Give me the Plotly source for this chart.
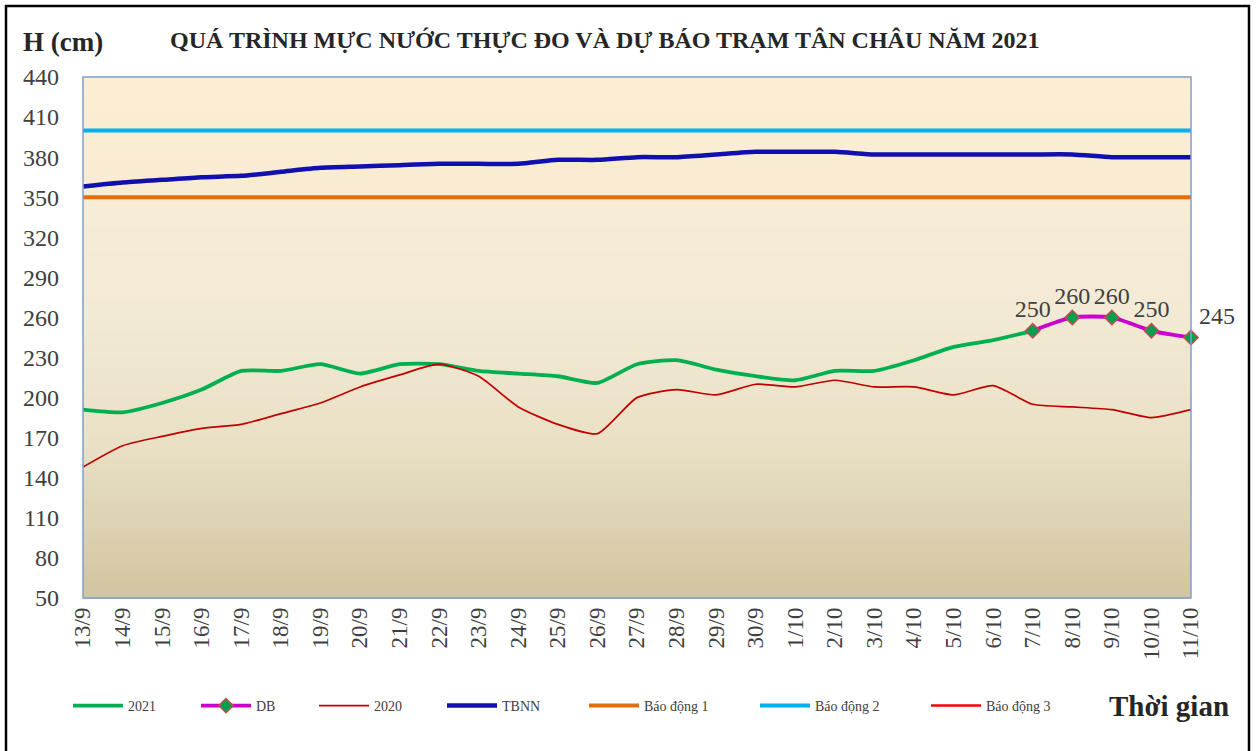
import plotly.graph_objects as go

dates = ["13/9", "14/9", "15/9", "16/9", "17/9", "18/9", "19/9", "20/9", "21/9", "22/9",
         "23/9", "24/9", "25/9", "26/9", "27/9", "28/9", "29/9", "30/9", "1/10", "2/10",
         "3/10", "4/10", "5/10", "6/10", "7/10", "8/10", "9/10", "10/10", "11/10"]

obs_2021 = [191, 189, 196, 206, 220, 220, 225, 218, 225, 225,
            220, 218, 216, 211, 225, 228, 221, 216, 213, 220,
            220, 228, 238, 243, 250]

db_dates = ["7/10", "8/10", "9/10", "10/10", "11/10"]
db_values = [250, 260, 260, 250, 245]

obs_2020 = [148, 164, 171, 177, 180, 188, 196, 208, 217, 225,
            216, 193, 180, 173, 200, 206, 202, 210, 208, 213,
            208, 208, 202, 209, 195, 193, 191, 185, 191]

tbnn = [358, 361, 363, 365, 366, 369, 372, 373, 374, 375,
        375, 375, 378, 378, 380, 380, 382, 384, 384, 384,
        382, 382, 382, 382, 382, 382, 380, 380, 380]

bao_dong_1 = 350
bao_dong_2 = 400
bao_dong_3 = 450

y_ticks = [50, 80, 110, 140, 170, 200, 230, 260, 290, 320, 350, 380, 410, 440]

W, H = 1257, 751
L, R, T, B = 83, 1191, 77, 598


def px(x):
    return (x - L) / (R - L)


def py(y):
    return (B - y) / (B - T)


SERIF = "Liberation Serif, Times New Roman, serif"
fig = go.Figure()

fig.add_trace(go.Scatter(x=dates[:len(obs_2021)], y=obs_2021, name="2021", mode="lines", legend="legend",
                         line=dict(color="#00B050", width=3.8, shape="spline", smoothing=0.6)))
fig.add_trace(go.Scatter(x=db_dates, y=db_values, name="DB", mode="lines+markers+text", legend="legend2",
                         line=dict(color="#CC00CC", width=3.8, shape="spline", smoothing=0.6),
                         marker=dict(symbol="diamond", size=11, color="#00A050",
                                     line=dict(color="#C0504D", width=1.5)),
                         text=[str(v) for v in db_values],
                         textposition=["top center", "top center", "top center", "top center", "top right"],
                         textfont=dict(family=SERIF, size=24, color="#404040"),
                         cliponaxis=False))
fig.add_trace(go.Scatter(x=dates, y=obs_2020, name="2020", mode="lines", legend="legend3",
                         line=dict(color="#C00000", width=1.7, shape="spline", smoothing=0.6)))
fig.add_trace(go.Scatter(x=dates, y=tbnn, name="TBNN", mode="lines", legend="legend4",
                         line=dict(color="#1010B0", width=4.5, shape="spline", smoothing=0.6)))
fig.add_trace(go.Scatter(x=dates, y=[bao_dong_1] * len(dates), name="Báo động 1", mode="lines",
                         legend="legend5", line=dict(color="#E46C0A", width=4)))
fig.add_trace(go.Scatter(x=dates, y=[bao_dong_2] * len(dates), name="Báo động 2", mode="lines",
                         legend="legend6", line=dict(color="#00B0F0", width=4)))
fig.add_trace(go.Scatter(x=dates, y=[bao_dong_3] * len(dates), name="Báo động 3", mode="lines",
                         legend="legend7", line=dict(color="#FF0000", width=2.5)))

# gradient background bands
stops = [(0.0, (253, 238, 210)), (0.45, (243, 234, 213)), (0.72, (232, 223, 196)), (1.0, (210, 196, 160))]


def col_at(t):
    for (t0, c0), (t1, c1) in zip(stops[:-1], stops[1:]):
        if t0 <= t <= t1:
            f = (t - t0) / (t1 - t0)
            return "rgb(%d,%d,%d)" % tuple(round(a + (b - a) * f) for a, b in zip(c0, c1))
    return "rgb(%d,%d,%d)" % stops[-1][1]


shapes = []
N = 80
for i in range(N):
    t = (i + 0.5) / N
    shapes.append(dict(type="rect", xref="paper", yref="paper", x0=0, x1=1,
                       y0=1 - (i + 1) / N - 0.002, y1=1 - i / N, fillcolor=col_at(t),
                       line=dict(width=0), layer="below"))
# plot border
shapes.append(dict(type="rect", xref="paper", yref="paper", x0=0, x1=1, y0=0, y1=1,
                   line=dict(color="#7F9FCF", width=1.5), fillcolor="rgba(0,0,0,0)", layer="above"))
# outer frame
shapes.append(dict(type="rect", xref="paper", yref="paper", x0=px(6), x1=px(1249), y0=py(760), y1=py(6),
                   line=dict(color="black", width=2.5), fillcolor="rgba(0,0,0,0)", layer="above"))

annotations = [
    dict(text="<b>H (cm)</b>", x=px(21), y=py(42), xref="paper", yref="paper", xanchor="left",
         yanchor="middle", showarrow=False, font=dict(family=SERIF, size=27, color="#262626")),
    dict(text="<b>QUÁ TRÌNH MỰC NƯỚC THỰC ĐO VÀ DỰ BÁO TRẠM TÂN CHÂU NĂM 2021</b>", x=px(605), y=py(40),
         xref="paper", yref="paper", xanchor="center", yanchor="middle", showarrow=False,
         font=dict(family=SERIF, size=24, color="#262626")),
    dict(text="<b>Thời gian</b>", x=px(1231), y=py(706), xref="paper", yref="paper", xanchor="right",
         yanchor="middle", showarrow=False, font=dict(family=SERIF, size=29, color="#262626")),
]

legend_starts = [72, 200, 318, 446, 588, 759, 930]
legend_style = dict(orientation="h", yanchor="middle", xanchor="left",
                    font=dict(family=SERIF, size=14, color="#404040"), itemwidth=50,
                    bgcolor="rgba(0,0,0,0)")
legends = {}
for k, xs in enumerate(legend_starts):
    key = "legend" if k == 0 else "legend%d" % (k + 1)
    legends[key] = dict(legend_style, x=px(xs - 4), y=py(706))

fig.update_layout(
    width=W, height=H,
    margin=dict(l=L, r=W - R, t=T, b=H - B, pad=0),
    paper_bgcolor="white", plot_bgcolor="rgba(0,0,0,0)",
    shapes=shapes, annotations=annotations,
    showlegend=True,
    xaxis=dict(type="category", categoryorder="array", categoryarray=dates, range=[0, len(dates) - 1],
               tickangle=-90, showgrid=False, zeroline=False, showline=False, ticks="",
               ticklabelstandoff=4,
               tickfont=dict(family=SERIF, size=23, color="#404040")),
    yaxis=dict(range=[50, 440], tickvals=y_ticks, showgrid=False, zeroline=False, showline=False,
               ticks="", ticklabelstandoff=23,
               tickfont=dict(family=SERIF, size=24, color="#404040")),
    **legends,
)

fig.write_html("out.html", config={"displayModeBar": False},
               post_script="document.body.style.margin='0';document.body.style.overflow='hidden';")
